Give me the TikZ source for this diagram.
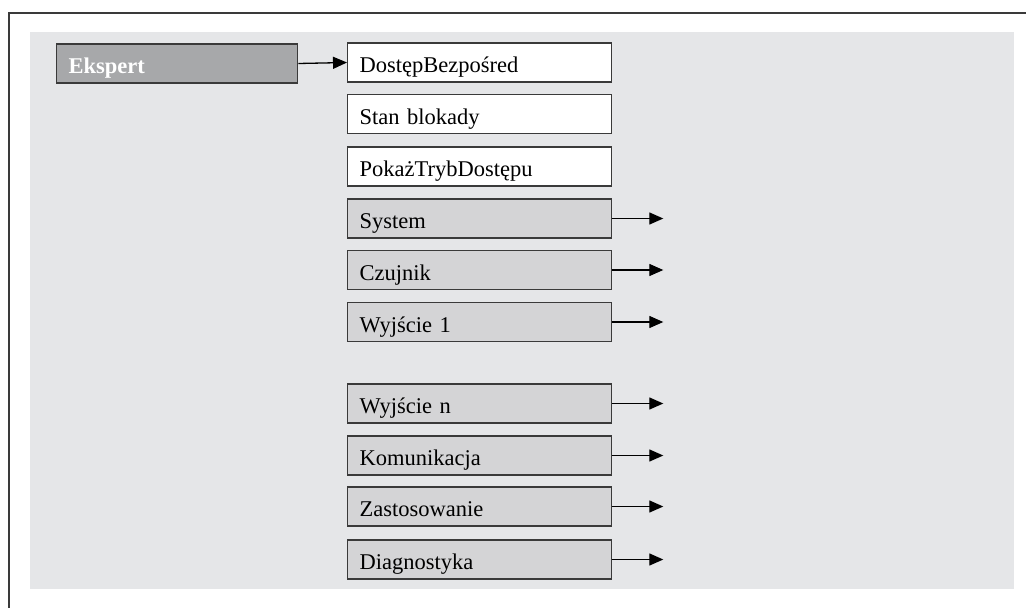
\documentclass[tikz,border=0pt]{standalone}
\usepackage{fontspec}
\setmainfont{Liberation Serif}
\usetikzlibrary{arrows.meta}
\definecolor{bgc}{HTML}{E5E6E8}
\definecolor{boxg}{HTML}{D4D4D6}
\definecolor{topg}{HTML}{A7A8AA}
\definecolor{linec}{HTML}{3A3A3A}
\tikzset{
  basebox/.style={draw=linec, line width=1.3pt, minimum height=39pt, inner xsep=12pt, inner ysep=0pt,
    align=left, text height=24pt, text depth=4pt, anchor=west,
    font=\fontsize{22.5}{26}\selectfont},
  whitebox/.style={basebox, fill=white, text width=240pt},
  graybox/.style={basebox, fill=boxg, text width=240pt},
  topbox/.style={basebox, fill=topg, text width=217pt, text=white, font=\fontsize{22.5}{26}\selectfont\bfseries},
  conn/.style={draw=black, line width=1.3pt, -{Triangle[length=14pt,width=12pt]}}
}
\begin{document}
\begin{tikzpicture}[x=1pt,y=-1pt]
\useasboundingbox (0,0) rectangle (1026,608);
\fill[bgc] (30,32) rectangle (1014,589);
\draw[linec, line width=2pt] (8.7,608) -- (8.7,13.3) -- (1026,13.3);
\node[topbox] (ek) at (56,63.5) {Ekspert};
\node[whitebox] (b1) at (347,62.5) {DostępBezpośred};
\node[whitebox] (b2) at (347,114) {Stan blokady};
\node[whitebox] (b3) at (347,166.5) {PokażTrybDostępu};
\node[graybox] (b4) at (347,218.5) {System};
\node[graybox] (b5) at (347,270) {Czujnik};
\node[graybox] (b6) at (347,322) {Wyjście 1};
\node[graybox] (b7) at (347,403.5) {Wyjście n};
\node[graybox] (b8) at (347,455.5) {Komunikacja};
\node[graybox] (b9) at (347,506.5) {Zastosowanie};
\node[graybox] (b10) at (347,559.5) {Diagnostyka};
\draw[conn] (ek.east) -- (b1.west);
\foreach \i in {4,...,10}{
  \coordinate (e\i) at ([xshift=51pt]b\i.east);
  \draw[conn] (b\i.east) -- (e\i);
}
\end{tikzpicture}
\end{document}
